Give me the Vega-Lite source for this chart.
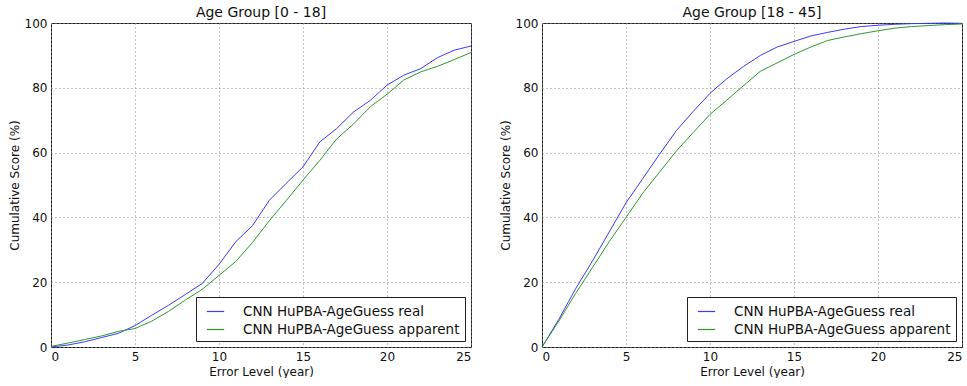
{
  "$schema": "https://vega.github.io/schema/vega-lite/v6.json",
  "background": "white",
  "padding": {"left": 7, "top": 5, "right": 0, "bottom": 0},
  "datasets": {
    "pts": [
      {"panel": "L", "series": "real", "year": 0, "score": 0.0},
      {"panel": "L", "series": "real", "year": 1, "score": 0.6},
      {"panel": "L", "series": "real", "year": 2, "score": 1.6},
      {"panel": "L", "series": "real", "year": 3, "score": 2.9},
      {"panel": "L", "series": "real", "year": 4, "score": 4.2},
      {"panel": "L", "series": "real", "year": 5, "score": 6.6},
      {"panel": "L", "series": "real", "year": 6, "score": 9.8},
      {"panel": "L", "series": "real", "year": 7, "score": 12.9},
      {"panel": "L", "series": "real", "year": 8, "score": 16.2},
      {"panel": "L", "series": "real", "year": 9, "score": 19.6},
      {"panel": "L", "series": "real", "year": 10, "score": 25.5},
      {"panel": "L", "series": "real", "year": 11, "score": 32.5},
      {"panel": "L", "series": "real", "year": 12, "score": 37.5},
      {"panel": "L", "series": "real", "year": 13, "score": 45.3},
      {"panel": "L", "series": "real", "year": 14, "score": 50.5},
      {"panel": "L", "series": "real", "year": 15, "score": 55.6},
      {"panel": "L", "series": "real", "year": 16, "score": 63.3},
      {"panel": "L", "series": "real", "year": 17, "score": 67.4},
      {"panel": "L", "series": "real", "year": 18, "score": 72.5},
      {"panel": "L", "series": "real", "year": 19, "score": 76.1},
      {"panel": "L", "series": "real", "year": 20, "score": 80.8},
      {"panel": "L", "series": "real", "year": 21, "score": 83.9},
      {"panel": "L", "series": "real", "year": 22, "score": 85.9},
      {"panel": "L", "series": "real", "year": 23, "score": 89.3},
      {"panel": "L", "series": "real", "year": 24, "score": 91.6},
      {"panel": "L", "series": "real", "year": 25, "score": 92.9},
      {"panel": "L", "series": "apparent", "year": 0, "score": 0.2},
      {"panel": "L", "series": "apparent", "year": 1, "score": 1.2},
      {"panel": "L", "series": "apparent", "year": 2, "score": 2.3},
      {"panel": "L", "series": "apparent", "year": 3, "score": 3.4},
      {"panel": "L", "series": "apparent", "year": 4, "score": 4.8},
      {"panel": "L", "series": "apparent", "year": 5, "score": 5.7},
      {"panel": "L", "series": "apparent", "year": 6, "score": 8.0},
      {"panel": "L", "series": "apparent", "year": 7, "score": 11.0},
      {"panel": "L", "series": "apparent", "year": 8, "score": 14.5},
      {"panel": "L", "series": "apparent", "year": 9, "score": 17.8},
      {"panel": "L", "series": "apparent", "year": 10, "score": 22.1},
      {"panel": "L", "series": "apparent", "year": 11, "score": 26.4},
      {"panel": "L", "series": "apparent", "year": 12, "score": 32.3},
      {"panel": "L", "series": "apparent", "year": 13, "score": 39.0},
      {"panel": "L", "series": "apparent", "year": 14, "score": 45.2},
      {"panel": "L", "series": "apparent", "year": 15, "score": 51.5},
      {"panel": "L", "series": "apparent", "year": 16, "score": 57.6},
      {"panel": "L", "series": "apparent", "year": 17, "score": 64.2},
      {"panel": "L", "series": "apparent", "year": 18, "score": 68.8},
      {"panel": "L", "series": "apparent", "year": 19, "score": 74.1},
      {"panel": "L", "series": "apparent", "year": 20, "score": 78.0},
      {"panel": "L", "series": "apparent", "year": 21, "score": 82.4},
      {"panel": "L", "series": "apparent", "year": 22, "score": 84.9},
      {"panel": "L", "series": "apparent", "year": 23, "score": 86.6},
      {"panel": "L", "series": "apparent", "year": 24, "score": 88.7},
      {"panel": "L", "series": "apparent", "year": 25, "score": 90.9},
      {"panel": "R", "series": "real", "year": 0, "score": 0.0},
      {"panel": "R", "series": "real", "year": 1, "score": 8.5},
      {"panel": "R", "series": "real", "year": 2, "score": 18.0},
      {"panel": "R", "series": "real", "year": 3, "score": 26.5},
      {"panel": "R", "series": "real", "year": 4, "score": 35.5},
      {"panel": "R", "series": "real", "year": 5, "score": 44.5},
      {"panel": "R", "series": "real", "year": 6, "score": 52.0},
      {"panel": "R", "series": "real", "year": 7, "score": 59.5},
      {"panel": "R", "series": "real", "year": 8, "score": 66.8},
      {"panel": "R", "series": "real", "year": 9, "score": 72.7},
      {"panel": "R", "series": "real", "year": 10, "score": 78.3},
      {"panel": "R", "series": "real", "year": 11, "score": 82.8},
      {"panel": "R", "series": "real", "year": 12, "score": 86.6},
      {"panel": "R", "series": "real", "year": 13, "score": 90.0},
      {"panel": "R", "series": "real", "year": 14, "score": 92.6},
      {"panel": "R", "series": "real", "year": 15, "score": 94.3},
      {"panel": "R", "series": "real", "year": 16, "score": 96.0},
      {"panel": "R", "series": "real", "year": 17, "score": 97.1},
      {"panel": "R", "series": "real", "year": 18, "score": 98.1},
      {"panel": "R", "series": "real", "year": 19, "score": 98.9},
      {"panel": "R", "series": "real", "year": 20, "score": 99.3},
      {"panel": "R", "series": "real", "year": 21, "score": 99.6},
      {"panel": "R", "series": "real", "year": 22, "score": 99.8},
      {"panel": "R", "series": "real", "year": 23, "score": 99.9},
      {"panel": "R", "series": "real", "year": 24, "score": 100.0},
      {"panel": "R", "series": "real", "year": 25, "score": 99.9},
      {"panel": "R", "series": "apparent", "year": 0, "score": 0.0},
      {"panel": "R", "series": "apparent", "year": 1, "score": 8.0},
      {"panel": "R", "series": "apparent", "year": 2, "score": 16.5},
      {"panel": "R", "series": "apparent", "year": 3, "score": 24.5},
      {"panel": "R", "series": "apparent", "year": 4, "score": 32.5},
      {"panel": "R", "series": "apparent", "year": 5, "score": 40.0},
      {"panel": "R", "series": "apparent", "year": 6, "score": 47.5},
      {"panel": "R", "series": "apparent", "year": 7, "score": 54.0},
      {"panel": "R", "series": "apparent", "year": 8, "score": 60.5},
      {"panel": "R", "series": "apparent", "year": 9, "score": 66.2},
      {"panel": "R", "series": "apparent", "year": 10, "score": 71.8},
      {"panel": "R", "series": "apparent", "year": 11, "score": 76.2},
      {"panel": "R", "series": "apparent", "year": 12, "score": 80.7},
      {"panel": "R", "series": "apparent", "year": 13, "score": 85.1},
      {"panel": "R", "series": "apparent", "year": 14, "score": 87.7},
      {"panel": "R", "series": "apparent", "year": 15, "score": 90.3},
      {"panel": "R", "series": "apparent", "year": 16, "score": 92.6},
      {"panel": "R", "series": "apparent", "year": 17, "score": 94.6},
      {"panel": "R", "series": "apparent", "year": 18, "score": 95.7},
      {"panel": "R", "series": "apparent", "year": 19, "score": 96.7},
      {"panel": "R", "series": "apparent", "year": 20, "score": 97.6},
      {"panel": "R", "series": "apparent", "year": 21, "score": 98.4},
      {"panel": "R", "series": "apparent", "year": 22, "score": 98.9},
      {"panel": "R", "series": "apparent", "year": 23, "score": 99.2},
      {"panel": "R", "series": "apparent", "year": 24, "score": 99.5},
      {"panel": "R", "series": "apparent", "year": 25, "score": 99.7}
    ]
  },
  "data": {"name": "pts"},
  "config": {
    "font": "DejaVu Sans",
    "view": {"stroke": "#222", "strokeWidth": 1},
    "axis": {
      "grid": true,
      "gridDash": [1, 3],
      "gridColor": "#888",
      "gridOpacity": 1,
      "domain": false,
      "ticks": false,
      "labelFontSize": 12,
      "labelColor": "#111",
      "titleFontSize": 12,
      "titleFontWeight": "normal",
      "titleColor": "#111",
      "labelPadding": 4
    },
    "title": {"fontSize": 14, "fontWeight": "normal", "color": "#111", "offset": -3},
    "legend": {
      "orient": "bottom-right",
      "offset": 6,
      "strokeColor": "#222",
      "fillColor": "white",
      "padding": 5,
      "labelFontSize": 13.5,
      "labelLimit": 0,
      "labelColor": "#111",
      "symbolType": "stroke",
      "symbolSize": 300,
      "symbolOffset": 5,
      "symbolStrokeWidth": 1.2,
      "labelOffset": 18,
      "rowPadding": 2,
      "cornerRadius": 0
    }
  },
  "spacing": 24,
  "resolve": {"legend": {"color": "independent"}},
  "hconcat": [
    {
      "title": "Age Group [0 - 18]",
      "width": 420,
      "height": 324,
      "transform": [{"filter": "datum.panel == 'L'"}],
      "mark": {"type": "line", "strokeWidth": 1},
      "encoding": {
        "x": {"field": "year", "type": "quantitative", "scale": {"domain": [0, 25], "nice": false}, "axis": {"values": [0, 5, 10, 15, 20, 25], "title": "Error Level (year)"}},
        "y": {"field": "score", "type": "quantitative", "scale": {"domain": [0, 100], "nice": false}, "axis": {"values": [0, 20, 40, 60, 80, 100], "title": "Cumulative Score (%)", "titlePadding": 3}},
        "color": {"field": "series", "type": "nominal", "scale": {"domain": ["real", "apparent"], "range": ["#3a3aff", "#2e9a2e"]}, "legend": {"title": null, "labelExpr": "'CNN HuPBA-AgeGuess ' + datum.label"}}
      }
    },
    {
      "title": "Age Group [18 - 45]",
      "width": 420,
      "height": 324,
      "transform": [{"filter": "datum.panel == 'R'"}],
      "mark": {"type": "line", "strokeWidth": 1},
      "encoding": {
        "x": {"field": "year", "type": "quantitative", "scale": {"domain": [0, 25], "nice": false}, "axis": {"values": [0, 5, 10, 15, 20, 25], "title": "Error Level (year)"}},
        "y": {"field": "score", "type": "quantitative", "scale": {"domain": [0, 100], "nice": false}, "axis": {"values": [0, 20, 40, 60, 80, 100], "title": "Cumulative Score (%)", "titlePadding": 3}},
        "color": {"field": "series", "type": "nominal", "scale": {"domain": ["real", "apparent"], "range": ["#3a3aff", "#2e9a2e"]}, "legend": {"title": null, "labelExpr": "'CNN HuPBA-AgeGuess ' + datum.label"}}
      }
    }
  ]
}
